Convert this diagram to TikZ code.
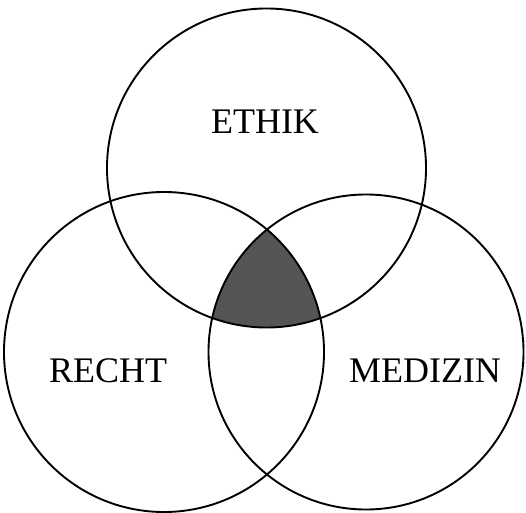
\documentclass[tikz,border=0pt]{standalone}
\usepackage{fontspec}
\setmainfont{Liberation Serif}
\usepackage{tikz}
\usetikzlibrary{positioning}
\definecolor{CoreGray}{HTML}{555555}

\begin{document}
\begin{tikzpicture}[
  x=1pt,y=1pt,
  ring/.style={circle,draw,line width=1.9pt,inner sep=0pt},
  field/.style={font=\fontsize{36}{36}\selectfont,inner sep=0pt}
]
\useasboundingbox (0,0) rectangle (526,512);
\coordinate (ce) at (266.5,344);
\coordinate (cr) at (164,160);
\coordinate (cm) at (366,160);
% shaded core
\begin{scope}
  \clip (ce) circle (159.5);
  \clip (cr) circle (160);
  \fill[CoreGray] (cm) circle (157.5);
\end{scope}
\node[ring,minimum size=319pt] (ethik) at (ce) {};
\node[ring,minimum size=320pt] (recht) at (cr) {};
\node[ring,minimum size=315pt] (medizin) at (cm) {};
\node[field] (tethik) at (265,390) {ETHIK};
\node[field] (trecht) at (108,141) {RECHT};
\node[field] (tmedizin) at (425,141) {MEDIZIN};
\end{tikzpicture}
\end{document}
